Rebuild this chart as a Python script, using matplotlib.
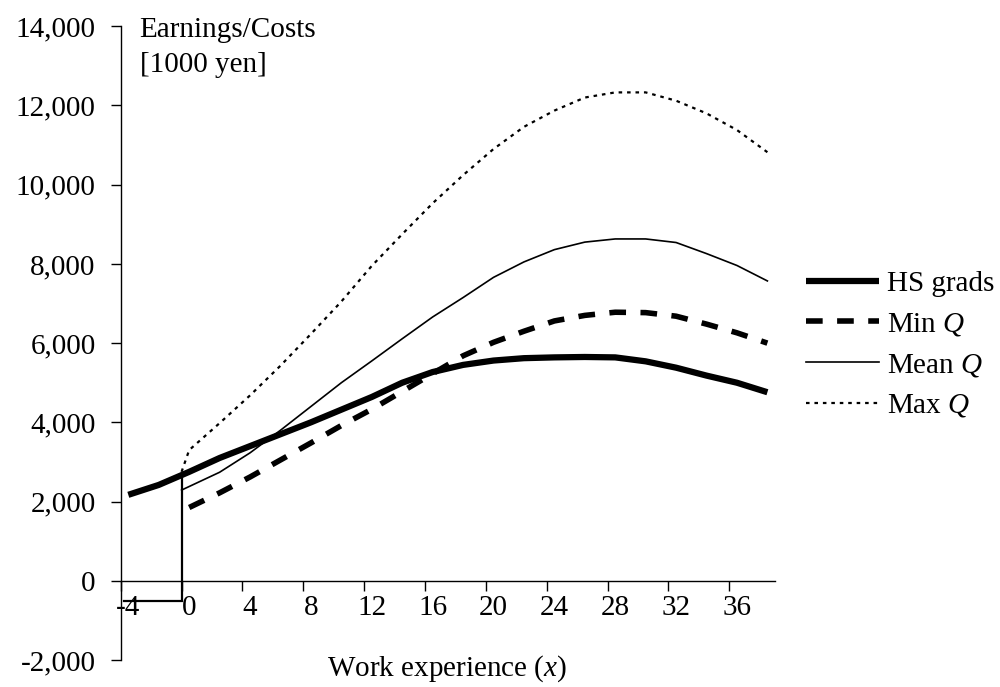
import matplotlib
matplotlib.use("Agg")
import matplotlib.pyplot as plt
from matplotlib.ticker import FuncFormatter

plt.rcParams['font.family'] = ['Liberation Serif', 'DejaVu Serif']
plt.rcParams['mathtext.fontset'] = 'custom'
plt.rcParams['mathtext.it'] = 'Liberation Serif:italic'
plt.rcParams['mathtext.rm'] = 'Liberation Serif'

# ---- data ----
hs_x = [-4, -2, 0, 2, 4, 6, 8, 10, 12, 14, 16, 18, 20, 22, 24, 26, 28, 30, 32, 34, 36, 38]
hs_y = [2170, 2420, 2750, 3100, 3400, 3700, 4000, 4320, 4640, 5000, 5270, 5450, 5560,
        5620, 5640, 5650, 5640, 5540, 5380, 5180, 5000, 4760]

q_x = [-0.5, 0, 2, 4, 6, 8, 10, 12, 14, 16, 18, 20, 22, 24, 26, 28, 30, 32, 34, 36, 38]
mean_q = [2290, 2380, 2740, 3230, 3800, 4400, 5000, 5550, 6110, 6660, 7150, 7660, 8050,
          8360, 8550, 8630, 8630, 8540, 8260, 7960, 7570]
max_q = [2750, 3300, 3980, 4680, 5430, 6230, 7050, 7950, 8750, 9530, 10240, 10900, 11460,
         11870, 12200, 12330, 12330, 12120, 11800, 11380, 10820]

min_x = [0, 2, 4, 6, 8, 10, 12, 14, 16, 18, 20, 22, 24, 26, 28, 30, 32, 34, 36, 38]
min_q = [1850, 2220, 2620, 3050, 3480, 3920, 4330, 4780, 5230, 5680, 6020, 6300, 6560,
         6700, 6780, 6770, 6680, 6480, 6260, 6000]

cost_x = [-4.3, -0.5, -0.5]
cost_y = [-500, -500, 2650]

x_labels = [-4, 0, 4, 8, 12, 16, 20, 24, 28, 32, 36]
y_ticks = [-2000, 0, 2000, 4000, 6000, 8000, 10000, 12000, 14000]

FS = 21

# ---- figure ----
fig = plt.figure(figsize=(10, 6.87), dpi=100)
ax = fig.add_axes([0.1207, 0.0393, 0.775 - 0.1207, 0.9618 - 0.0393])

ax.plot(cost_x, cost_y, color='black', lw=1.6, solid_joinstyle='miter')
ax.plot(hs_x, hs_y, color='black', lw=4.5, label='HS grads', solid_capstyle='butt')
ax.plot(min_x, min_q, color='black', lw=4.0, linestyle=(0, (3.0, 2.6)),
        label='Min $Q$', dash_capstyle='butt')
ax.plot(q_x, mean_q, color='black', lw=1.2, label='Mean $Q$')
ax.plot(q_x, max_q, color='black', lw=1.6, linestyle=(0, (1.6, 2.2)),
        label='Max $Q$', dash_capstyle='butt')

ax.set_xlim(-4.5, 38.5)
ax.set_ylim(-2000, 14000)

for s in ['top', 'right']:
    ax.spines[s].set_visible(False)
ax.spines['bottom'].set_position(('data', 0))
ax.spines['left'].set_linewidth(1.0)
ax.spines['bottom'].set_linewidth(1.0)

# x ticks: marks at category boundaries, labels at integer positions
ax.set_xticks([v - 0.5 for v in x_labels])
ax.set_xticklabels([])
ax.set_xticks(x_labels, minor=True)
ax.set_xticklabels([str(v) for v in x_labels], minor=True)
ax.tick_params(axis='x', which='major', direction='out', length=7, width=1.0)
ax.tick_params(axis='x', which='minor', length=0, pad=10, labelsize=FS)

ax.set_yticks(y_ticks)
ax.yaxis.set_major_formatter(FuncFormatter(lambda v, p: f"{int(v):,}"))
ax.tick_params(axis='y', direction='out', length=7, width=1.0, pad=11, labelsize=FS)

ax.text(0.029, 1.015, "Earnings/Costs\n[1000 yen]", transform=ax.transAxes,
        ha='left', va='top', fontsize=FS, linespacing=1.45)

fig.text(0.447, 0.026, "Work experience ($x$)", ha='center', va='center', fontsize=FS)

leg = ax.legend(loc='center left', bbox_to_anchor=(1.047, 0.497), frameon=False,
                fontsize=FS, handlelength=2.5, handletextpad=0.3, labelspacing=0.47,
                borderaxespad=0, borderpad=0)

fig.savefig("out.png", dpi=100)
